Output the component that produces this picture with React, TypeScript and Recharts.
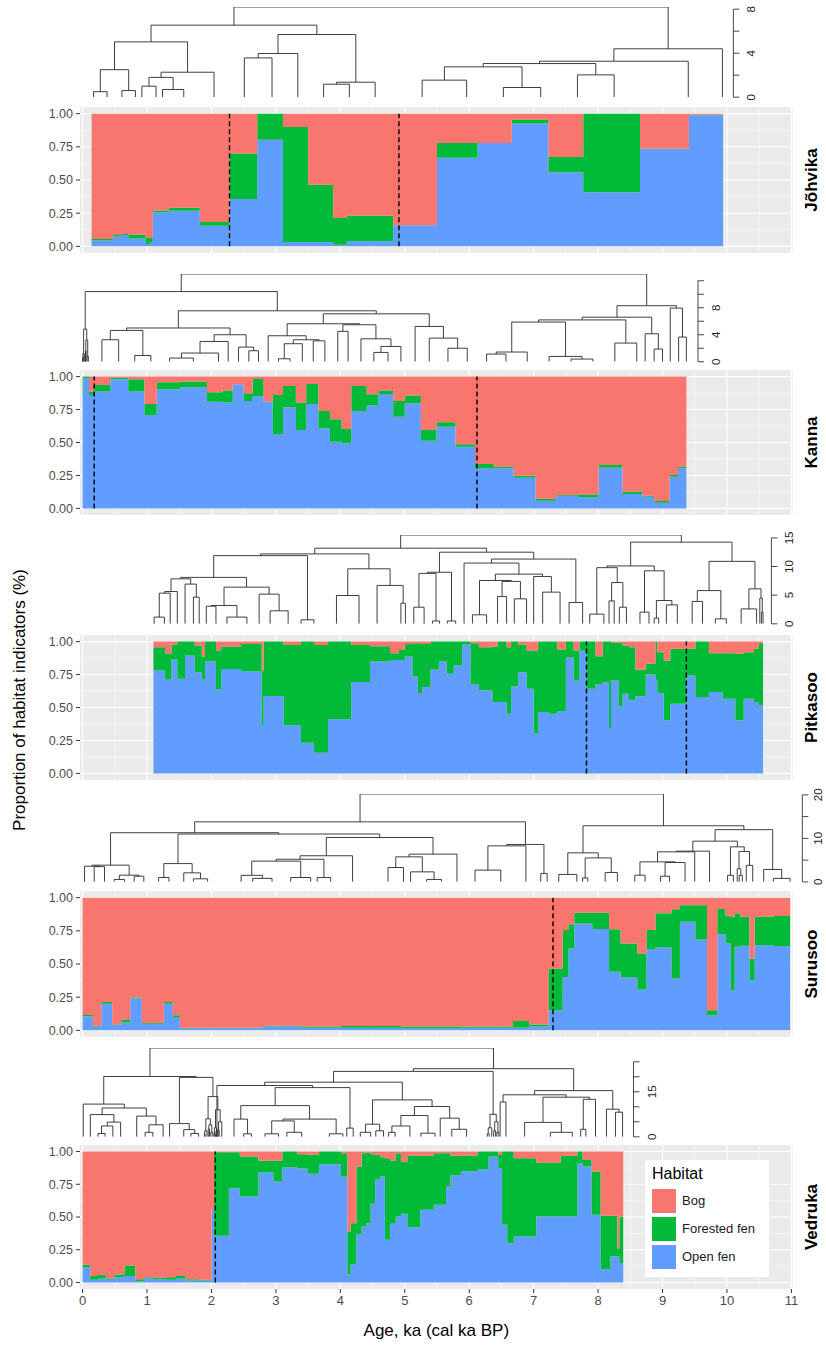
import React from 'react';
import { ComposedChart, Area, Line, XAxis, YAxis, CartesianGrid, ReferenceLine, Legend } from 'recharts';

const FONT = '"Liberation Sans", Arial, Helvetica, sans-serif';
const X_MIN = -0.04;
const X_MAX = 11.02;
const PLOT_LEFT = 80;
const PLOT_RIGHT = 792.7;
const PX_PER_KA = (PLOT_RIGHT - PLOT_LEFT) / (X_MAX - X_MIN);

const xTicks = [0, 1, 2, 3, 4, 5, 6, 7, 8, 9, 10, 11];
const xMinor = [0.5, 1.5, 2.5, 3.5, 4.5, 5.5, 6.5, 7.5, 8.5, 9.5, 10.5];
const yTicks = [0, 0.25, 0.5, 0.75, 1];
const yMinor = [0.125, 0.375, 0.625, 0.875];

const habitatNames = ['Bog', 'Forested fen', 'Open fen'];
const habitatColors = ['#F8766D', '#00BA38', '#619CFF'];

// ---------------- Jõhvika ----------------
const johvikaAge = [0.14, 0.47, 0.60, 0.71, 0.98, 1.05, 1.09, 1.34, 1.82, 2.28, 2.71, 3.11, 3.50, 3.89, 4.10, 4.82, 5.50, 6.13, 6.66, 7.23, 7.77, 8.65, 9.41];
const johvikaEnd = 9.94;
const johvikaOpen = [0.045, 0.075, 0.085, 0.06, 0.018, 0.033, 0.256, 0.269, 0.156, 0.357, 0.804, 0.033, 0.033, 0.013, 0.038, 0.16, 0.668, 0.779, 0.925, 0.558, 0.407, 0.736, 0.987];
const johvikaForest = [0.01, 0.01, 0.008, 0.028, 0.045, 0.03, 0.015, 0.022, 0.027, 0.343, 0.196, 0.867, 0.432, 0.201, 0.193, 0, 0.111, 0, 0.03, 0.115, 0.593, 0, 0.005];
const johvikaBog = [0.945, 0.915, 0.907, 0.912, 0.937, 0.937, 0.729, 0.709, 0.817, 0.30, 0, 0.10, 0.535, 0.786, 0.769, 0.84, 0.221, 0.221, 0.045, 0.327, 0, 0.264, 0.008];
const johvikaZones = [2.28, 4.91];
const johvikaTree = [8.2,
  [6.55,
    [5.03,
      [2.5, [0.5, 0.17, 0.38], [0.6, 0.61, 0.82]],
      [2.27, [1.8, [1.0, 0.92, 1.14], [0.7, 1.24, 1.57]], 2.04]],
    [5.7,
      [3.97, [3.57, 2.51, 2.94], 3.34],
      [1.36, [1.18, 3.74, 4.14], 4.54]]],
  [4.4,
    [3.27,
      [3.06,
        [2.76, [1.55, 5.27, 5.96], [0.88, 6.53, 7.11]],
        [2.03, 7.68, 8.25]],
      9.40],
    9.93]];

// ---------------- Kanna ----------------
const kannaAge = [0.00, 0.01, 0.10, 0.18, 0.43, 0.71, 0.96, 1.15, 1.52, 1.93, 2.17, 2.33, 2.50, 2.64, 2.81, 2.95, 3.11, 3.31, 3.47, 3.66, 3.84, 4.02, 4.17, 4.41, 4.59, 4.82, 5.00, 5.25, 5.49, 5.79, 6.09, 6.38, 6.69, 7.03, 7.35, 7.70, 8.01, 8.38, 8.69, 8.87, 9.11, 9.24];
const kannaEnd = 9.37;
const kannaOpen = [0.86, 0.987, 0.861, 0.886, 0.98, 0.886, 0.709, 0.904, 0.919, 0.81, 0.803, 0.942, 0.815, 0.853, 0.81, 0.565, 0.767, 0.595, 0.792, 0.608, 0.506, 0.494, 0.739, 0.78, 0.868, 0.696, 0.797, 0.514, 0.62, 0.468, 0.304, 0.304, 0.233, 0.058, 0.096, 0.084, 0.309, 0.109, 0.089, 0.043, 0.241, 0.304];
const kannaForest = [0.13, 0.013, 0.025, 0.051, 0.012, 0.094, 0.083, 0.053, 0.043, 0.071, 0.091, 0, 0.058, 0.129, 0, 0.296, 0.162, 0.208, 0.152, 0.131, 0.17, 0.109, 0.19, 0.086, 0.026, 0.119, 0.059, 0.081, 0.033, 0.018, 0.033, 0.012, 0.015, 0.015, 0.005, 0.022, 0.02, 0.018, 0.007, 0.013, 0.012, 0.012];
const kannaBog = [0.01, 0, 0.114, 0.063, 0.008, 0.02, 0.208, 0.043, 0.038, 0.119, 0.106, 0.058, 0.127, 0.018, 0.19, 0.139, 0.071, 0.197, 0.056, 0.261, 0.324, 0.397, 0.071, 0.134, 0.106, 0.185, 0.144, 0.405, 0.347, 0.514, 0.663, 0.684, 0.752, 0.927, 0.899, 0.894, 0.671, 0.873, 0.904, 0.944, 0.747, 0.684];
const kannaZones = [0.18, 6.12];
const kannaTree = [13.0,
  [10.4,
    [4.84, [1.2, [0.6, 0.0, 0.01], [0.9, 0.02, 0.035]], [3.2, [1.6, 0.045, 0.055], [0.8, 0.07, 0.09]]],
    [7.55,
      [5.0,
        [4.64, [3.26, 0.30, 0.56], [0.93, 0.81, 1.06]],
        [4.0,
          [3.0, [1.29, [0.55, 1.35, 1.72], 2.11], 2.26],
          [2.17, 2.42, [1.63, 2.58, 2.73]]]],
      [7.1,
        [5.63,
          [3.85, 2.88, [3.26, [2.67, [0.44, 3.04, 3.22], 3.41], [3.1, 3.58, 3.76]]],
          [5.48, [4.5, 3.96, 4.12], [3.4, 4.32, [2.27, [1.38, 4.52, 4.74], 4.94]]]],
        [5.23, 5.16, [3.5, 5.38, [2.0, 5.67, 5.97]]]]]],
  [8.3,
    [6.6,
      [6.2,
        [5.88, [1.44, [1.14, 6.27, 6.57], 6.90], [0.79, 7.24, [0.4, 7.58, 7.92]]],
        [2.77, 8.26, 8.60]],
      [4.15, 8.73, [1.88, 8.87, 9.00]]],
    [7.95, 9.12, [3.66, 9.25, 9.37]]]];

// ---------------- Pitkasoo ----------------
const pitkasooAge = [1.10, 1.28, 1.38, 1.47, 1.59, 1.74, 1.85, 1.90, 2.07, 2.15, 2.46, 2.78, 2.81, 3.12, 3.39, 3.59, 3.81, 4.17, 4.46, 4.77, 4.91, 5.00, 5.12, 5.20, 5.27, 5.40, 5.53, 5.65, 5.76, 5.89, 6.02, 6.15, 6.36, 6.44, 6.58, 6.65, 6.76, 6.89, 7.00, 7.07, 7.23, 7.37, 7.50, 7.62, 7.71, 7.82, 7.96, 8.07, 8.17, 8.20, 8.32, 8.38, 8.48, 8.58, 8.74, 8.89, 8.92, 9.02, 9.12, 9.37, 9.51, 9.72, 9.93, 10.13, 10.26, 10.42, 10.49];
const pitkasooEnd = 10.56;
const pitkasooOpen = [0.781, 0.71, 0.864, 0.718, 0.894, 0.768, 0.71, 0.849, 0.637, 0.793, 0.773, 0.365, 0.587, 0.365, 0.232, 0.156, 0.411, 0.693, 0.849, 0.861, 0.861, 0.887, 0.736, 0.61, 0.655, 0.788, 0.851, 0.756, 0.819, 0.977, 0.675, 0.63, 0.542, 0.542, 0.458, 0.66, 0.768, 0.642, 0.302, 0.466, 0.453, 0.473, 0.88, 0.704, 0.93, 0.642, 0.678, 0.691, 0.34, 0.704, 0.51, 0.605, 0.555, 0.585, 0.751, 0.71, 0.61, 0.403, 0.529, 0.743, 0.58, 0.617, 0.567, 0.403, 0.567, 0.542, 0.516];
const pitkasooForest = [0.176, 0.197, 0.113, 0.282, 0.106, 0.202, 0.177, 0.151, 0.295, 0.169, 0.209, 0.415, 0.413, 0.61, 0.768, 0.819, 0.589, 0.282, 0.116, 0.051, 0.076, 0.095, 0.251, 0.377, 0.327, 0.212, 0.149, 0.244, 0.181, 0.023, 0.312, 0.327, 0.42, 0.458, 0.499, 0.34, 0.209, 0.29, 0.63, 0.534, 0.547, 0.467, 0.12, 0.228, 0.07, 0.358, 0.211, 0.309, 0.66, 0.29, 0.484, 0.365, 0.402, 0.201, 0.08, 0.29, 0.31, 0.453, 0.416, 0.202, 0.42, 0.295, 0.345, 0.504, 0.353, 0.403, 0.471];
const pitkasooBog = [0.043, 0.093, 0.023, 0, 0, 0.03, 0.113, 0, 0.068, 0.038, 0.018, 0.22, 0, 0.025, 0, 0.025, 0, 0.025, 0.035, 0.088, 0.063, 0.018, 0.013, 0.013, 0.018, 0, 0, 0, 0, 0, 0.013, 0.043, 0.038, 0, 0.043, 0, 0.023, 0.068, 0.068, 0, 0, 0.06, 0, 0.068, 0, 0, 0.111, 0, 0, 0.006, 0.006, 0.03, 0.043, 0.214, 0.169, 0, 0.08, 0.144, 0.055, 0.055, 0, 0.088, 0.088, 0.093, 0.08, 0.055, 0.013];
const pitkasooZones = [7.82, 9.37];
const pitkasooTree = [15.5,
  [13.2,
    [12.2,
      [11.9,
        [8.1,
          [7.85,
            [5.64, [5.35, [1.17, 1.11, 1.27], 1.36], 1.47],
            [6.93, 1.59, [4.65, 1.72, 1.81]]],
          [6.4,
            [3.2, [3.08, 1.92, 2.07], [1.17, 2.24, 2.55]],
            [5.18, 2.74, [2.27, 2.91, 3.19]]]],
        [0.7, 3.39, 3.59]],
      [9.6,
        [4.94, 3.94, 4.29],
        [6.7, 4.57, [3.6, 4.94, 5.01]]]],
    [12.5,
      [9.0, [8.8, [2.9, 5.14, 5.30], [0.5, 5.43, 5.54]], [0.5, 5.66, 5.79]],
      [11.3,
        [10.6,
          5.92,
          [8.67,
            [7.56, [1.57, 6.05, 6.27], [7.4, [4.77, 6.44, 6.58], [4.36, 6.70, 6.89]]],
            [8.26, 7.0, [5.53, 7.14, 7.41]]]],
        [3.72, 7.55, 7.76]]]],
  [14.25,
    [10.1,
      [9.8, [1.69, 7.87, 8.09], [7.2, [4.0, 8.17, 8.25], [2.9, 8.33, 8.44]]],
      [9.25, [2.04, 8.65, 8.79], [4.07, [1.0, 8.87, 8.94], [3.3, 9.06, 9.23]]]],
    [10.9,
      [5.8, [3.9, 9.46, 9.62], [0.87, 9.82, 9.99]],
      [6.1, [2.6, 10.22, 10.46], [4.5, 10.51, [2.0, 10.535, 10.56]]]]]];

// ---------------- Surusoo ----------------
const surusooAge = [0.00, 0.16, 0.29, 0.46, 0.60, 0.74, 0.92, 1.26, 1.40, 1.51, 2.80, 3.39, 4.01, 4.94, 5.87, 6.68, 6.93, 7.23, 7.45, 7.54, 7.63, 7.91, 8.17, 8.35, 8.61, 8.75, 8.89, 9.14, 9.27, 9.51, 9.69, 9.85, 9.98, 10.06, 10.12, 10.21, 10.35, 10.43, 10.73];
const surusooEnd = 10.98;
const surusooOpen = [0.106, 0.03, 0.20, 0.04, 0.06, 0.24, 0.05, 0.20, 0.10, 0.015, 0.03, 0.02, 0.02, 0.015, 0.02, 0.02, 0.03, 0.151, 0.403, 0.617, 0.806, 0.763, 0.441, 0.398, 0.307, 0.612, 0.625, 0.39, 0.819, 0.685, 0.113, 0.725, 0.655, 0.302, 0.63, 0.637, 0.378, 0.642, 0.635];
const surusooForest = [0.01, 0.005, 0.013, 0.005, 0.02, 0.008, 0.005, 0.013, 0.013, 0.005, 0.005, 0.01, 0.012, 0.015, 0.01, 0.05, 0.015, 0.315, 0.353, 0.183, 0.081, 0.124, 0.32, 0.257, 0.272, 0.144, 0.257, 0.522, 0.123, 0.257, 0.038, 0.189, 0.209, 0.554, 0.252, 0.219, 0.164, 0.214, 0.226];
const surusooBog = [0.884, 0.965, 0.787, 0.955, 0.92, 0.752, 0.945, 0.787, 0.887, 0.98, 0.965, 0.97, 0.968, 0.97, 0.97, 0.93, 0.955, 0.534, 0.244, 0.20, 0.113, 0.113, 0.239, 0.345, 0.421, 0.244, 0.118, 0.088, 0.058, 0.058, 0.849, 0.086, 0.136, 0.144, 0.118, 0.144, 0.458, 0.144, 0.139];
const surusooZones = [7.30];
const surusooTree = [20.2,
  [13.8,
    [11.3,
      [3.84, [3.6, 0.03, [3.5, 0.18, 0.34]], [1.54, [0.55, 0.49, 0.65], [1.3, 0.80, 0.95]]],
      [11.0,
        [4.2, [1.0, 1.18, 1.34], [2.07, 1.57, [0.7, 1.72, 1.94]]],
        [10.2,
          [6.0,
            [5.2,
              [4.76, [1.5, 2.46, [0.8, 2.64, 2.94]], [1.0, 3.23, 3.54]],
              [1.0, 3.64, 3.85]],
            4.19],
          [6.37,
            [5.75, [3.3, 4.74, 4.98], [2.3, 5.09, [0.55, 5.34, 5.57]]],
            5.81]]]],
    [8.6,
      [8.28, [2.7, 6.09, 6.49], 6.88],
      [1.93, 7.11, 7.21]]],
  [12.9,
    [6.67, [1.7, 7.39, 7.67], [5.5, [0.9, 7.76, 7.84], [2.16, 8.11, 8.30]]],
    [12.0,
      [9.36,
        [7.06, [6.9, [4.6, [1.53, 8.57, 8.73], [4.45, [1.3, 8.97, 9.11], 9.35]], 9.50], 9.73],
        [8.05, [1.5, 10.01, 10.10], [7.0, [3.0, 10.16, [1.5, 10.19, 10.24]], [3.8, 10.30, 10.40]]]],
      [2.85, 10.57, [0.8, 10.72, 10.98]]]]];

// ---------------- Vedruka ----------------
const vedrukaAge = [0.00, 0.12, 0.24, 0.36, 0.49, 0.65, 0.82, 0.95, 1.10, 1.30, 1.45, 1.60, 1.80, 2.00, 2.04, 2.27, 2.44, 2.73, 2.96, 3.10, 3.33, 3.49, 3.67, 4.01, 4.11, 4.16, 4.25, 4.33, 4.40, 4.47, 4.54, 4.62, 4.69, 4.77, 4.86, 4.94, 5.04, 5.24, 5.45, 5.64, 5.71, 5.87, 6.13, 6.30, 6.45, 6.51, 6.59, 6.69, 7.04, 7.42, 7.68, 7.76, 7.90, 8.04, 8.19, 8.30, 8.33];
const vedrukaEnd = 8.39;
const vedrukaOpen = [0.115, 0.02, 0.03, 0.02, 0.04, 0.05, 0.01, 0.03, 0.025, 0.02, 0.03, 0.015, 0.015, 0.555, 0.356, 0.72, 0.656, 0.84, 0.771, 0.88, 0.87, 0.83, 0.903, 0.809, 0.06, 0.14, 0.371, 0.427, 0.453, 0.606, 0.789, 0.809, 0.326, 0.448, 0.504, 0.524, 0.422, 0.555, 0.593, 0.733, 0.817, 0.85, 0.865, 0.962, 0.873, 0.44, 0.30, 0.351, 0.504, 0.504, 0.911, 0.886, 0.517, 0.10, 0.20, 0.20, 0.148];
const vedrukaForest = [0.02, 0.03, 0.03, 0.01, 0.02, 0.08, 0.015, 0.01, 0.01, 0.02, 0.02, 0.01, 0.005, 0, 0.639, 0.275, 0.306, 0.089, 0.158, 0.12, 0.11, 0.145, 0.097, 0.178, 0.33, 0.313, 0.514, 0.56, 0.539, 0.374, 0.186, 0.148, 0.623, 0.483, 0.483, 0.40, 0.545, 0.412, 0.394, 0.254, 0.15, 0.12, 0.135, 0.038, 0.10, 0.56, 0.70, 0.598, 0.412, 0.463, 0.089, 0.05, 0.33, 0.409, 0.309, 0.06, 0.356];
const vedrukaBog = [0.865, 0.95, 0.94, 0.97, 0.94, 0.87, 0.975, 0.96, 0.965, 0.96, 0.95, 0.975, 0.98, 0.445, 0.005, 0.005, 0.038, 0.071, 0.071, 0, 0.02, 0.025, 0, 0.013, 0.61, 0.547, 0.115, 0.013, 0.008, 0.02, 0.025, 0.043, 0.051, 0.069, 0.013, 0.076, 0.033, 0.033, 0.013, 0.013, 0.033, 0.03, 0, 0, 0.027, 0, 0, 0.051, 0.084, 0.033, 0, 0.064, 0.153, 0.491, 0.491, 0.74, 0.496];
const vedrukaZones = [2.06];
const vedrukaTree = [29.6,
  [20.1,
    [10.9, 0.01,
      [9.6,
        [7.4, 0.12, [4.9, [3.6, [1.1, 0.24, 0.35], 0.47], 0.59]],
        [6.9, 0.84, [4.0, [1.5, 0.97, 1.09], 1.25]]]],
    [19.8,
      [4.4, 1.35, [2.4, 1.57, [1.1, 1.68, 1.80]]],
      [13.4,
        [6.0, [2.0, [1.0, 1.89, 1.90], 1.93], [4.0, [2.5, 1.95, 1.97], [1.5, 1.99, 2.02]]],
        [9.0, [3.0, [1.2, 2.04, 2.05], 2.08], [5.0, [2.2, 2.10, 2.12], 2.16]]]]],
  [22.7,
    [21.8,
      [18.2,
        [17.1,
          [2.0, [0.8, 2.065, 2.075], 2.10],
          [16.4,
            [10.4,
              [5.9, 2.35, [1.0, 2.50, 2.62]],
              [5.9, [5.3, [1.0, 2.83, 3.04], [1.5, 3.17, 3.40]], [1.0, 3.83, 4.04]]],
            [2.9, 4.10, 4.20]]],
        [12.3,
          [4.2, [1.5, 4.31, 4.47], [2.0, 4.55, 4.67]],
          [10.1,
            [7.1, [3.6, [1.5, 4.75, 4.85], 5.08], [1.2, 5.25, 5.47]],
            [6.2, 5.55, [2.5, 5.73, 5.96]]]]],
      [7.5, [3.0, [1.0, 6.28, 6.31], 6.35], [5.0, [2.0, 6.38, 6.41], [1.5, 6.43, 6.46]]]],
    [15.4,
      [14.0,
        [11.6, 6.48, 6.57],
        [13.2, [4.8, 6.86, [1.5, 7.26, 7.60]], [12.5, [2.5, 7.73, 7.81], 7.96]]],
      [9.2, 8.13, [8.2, 8.27, 8.38]]]]];

type Tree = number | [number, Tree, Tree];

function dendroPoints(tree: any) {
  const pts: any[] = [];
  const walk = (t: Tree): { x: number; h: number } => {
    if (typeof t === 'number') return { x: t, h: 0 };
    const [h, l, r] = t as [number, Tree, Tree];
    const a = walk(l);
    const b = walk(r);
    pts.push({ x: a.x, y: a.h }, { x: a.x, y: h }, { x: b.x, y: h }, { x: b.x, y: b.h }, { x: b.x, y: null });
    return { x: (a.x + b.x) / 2, h };
  };
  walk(tree);
  return pts;
}

function buildRows(age: number[], open: number[], forest: number[], bog: number[], end: number) {
  const rows = age.map((a, i) => ({ age: a, open: open[i], forest: forest[i], bog: bog[i] }));
  const last = rows[rows.length - 1];
  rows.push({ ...last, age: end });
  return rows;
}

const sites = [
  { name: 'Jõhvika', rows: buildRows(johvikaAge, johvikaOpen, johvikaForest, johvikaBog, johvikaEnd), zones: johvikaZones, tree: johvikaTree,
    panelTop: 107, panelH: 146, base: 97, scale: 11, dmax: 8.2, axisX: 10.10, dTicks: [0, 2, 4, 6, 8], dLabels: [0, 4, 8], tMargin: 12 },
  { name: 'Kanna', rows: buildRows(kannaAge, kannaOpen, kannaForest, kannaBog, kannaEnd), zones: kannaZones, tree: kannaTree,
    panelTop: 370, panelH: 145, base: 362, scale: 6.75, dmax: 13.0, axisX: 9.55, dTicks: [0, 2, 4, 6, 8, 10, 12], dLabels: [0, 4, 8], tMargin: 12 },
  { name: 'Pitkasoo', rows: buildRows(pitkasooAge, pitkasooOpen, pitkasooForest, pitkasooBog, pitkasooEnd), zones: pitkasooZones, tree: pitkasooTree,
    panelTop: 635, panelH: 145, base: 624, scale: 5.73, dmax: 15.5, axisX: 10.69, dTicks: [0, 5, 10, 15], dLabels: [0, 5, 10, 15], tMargin: 12 },
  { name: 'Surusoo', rows: buildRows(surusooAge, surusooOpen, surusooForest, surusooBog, surusooEnd), zones: surusooZones, tree: surusooTree,
    panelTop: 891, panelH: 146, base: 881.7, scale: 4.35, dmax: 20.2, axisX: 11.17, dTicks: [0, 5, 10, 15, 20], dLabels: [0, 10, 20], tMargin: 9.5 },
  { name: 'Vedruka', rows: buildRows(vedrukaAge, vedrukaOpen, vedrukaForest, vedrukaBog, vedrukaEnd), zones: vedrukaZones, tree: vedrukaTree,
    panelTop: 1145, panelH: 144, base: 1137, scale: 3.0, dmax: 29.6, axisX: 8.55, dTicks: [0, 5, 10, 15, 20, 25], dLabels: [0, 15], tMargin: 12 },
];

function Dendrogram({ site }: any) {
  const pts = dendroPoints(site.tree);
  const plotW = (site.axisX - X_MIN) * PX_PER_KA;
  const plotH = site.dmax * site.scale;
  const mTop = 10;
  const mBottom = 6;
  const axisW = 30;
  const topTick = site.dTicks[site.dTicks.length - 1];
  const renderTick = (p: any) => {
    const v = p.payload.value;
    if (!site.dLabels.includes(v)) return <g />;
    return (
      <text x={p.x} y={p.y} transform={`rotate(-90 ${p.x} ${p.y})`} textAnchor="middle" dominantBaseline="central"
        fontSize={11.5} fill="#222" fontFamily={FONT}>{v}</text>
    );
  };
  return (
    <div style={{ position: 'absolute', left: 0, top: site.base - plotH - mTop }}>
      <ComposedChart width={PLOT_LEFT + plotW + axisW} height={plotH + mTop + mBottom} data={pts}
        margin={{ top: mTop, right: 0, bottom: mBottom, left: PLOT_LEFT }}>
        <XAxis type="number" dataKey="x" domain={[X_MIN, site.axisX]} hide allowDataOverflow />
        <YAxis orientation="right" type="number" domain={[0, site.dmax]} ticks={site.dTicks} interval={0}
          width={axisW} axisLine={false} tickLine={{ stroke: '#333', strokeWidth: 0.9 }} tickSize={6} tickMargin={site.tMargin}
          tick={renderTick} allowDataOverflow />
        <ReferenceLine segment={[{ x: site.axisX, y: 0 }, { x: site.axisX, y: topTick }]} stroke="#333" strokeWidth={0.9} ifOverflow="visible" />
        <Line type="linear" dataKey="y" stroke="#2a2a2a" strokeWidth={0.9} dot={false} activeDot={false}
          connectNulls={false} isAnimationActive={false} />
      </ComposedChart>
    </div>
  );
}

const renderLegend = (props: any) => {
  const payload = props.payload || [];
  const items = habitatNames.map((n, i) => {
    const p = payload.find((q: any) => q.value === n);
    return { name: n, color: p ? p.color : habitatColors[i] };
  });
  return (
    <div style={{ position: 'relative', width: 124, height: 117, background: '#fff', fontFamily: FONT }}>
      <div style={{ position: 'absolute', left: 7, top: 4, fontSize: 16, lineHeight: '20px', color: '#000' }}>Habitat</div>
      {items.map((it, i) => (
        <div key={it.name}>
          <div style={{ position: 'absolute', left: 7, top: 29 + i * 28, width: 24, height: 24, background: it.color }} />
          <div style={{ position: 'absolute', left: 37, top: 29 + i * 28, height: 24, lineHeight: '24px', fontSize: 13, color: '#1a1a1a', whiteSpace: 'nowrap' }}>{it.name}</div>
        </div>
      ))}
    </div>
  );
};

function HabitatPanel({ site, last }: any) {
  const xAxisH = last ? 56 : 0;
  return (
    <div style={{ position: 'absolute', left: 0, top: site.panelTop }}>
      <ComposedChart width={826} height={site.panelH + xAxisH} data={site.rows}
        margin={{ top: 0, right: 826 - PLOT_RIGHT, bottom: 0, left: 0 }}>
        <CartesianGrid fill="#EBEBEB" fillOpacity={1} stroke="#FFFFFF" strokeWidth={0.55} verticalValues={xMinor} horizontalValues={yMinor} />
        <CartesianGrid stroke="#FFFFFF" strokeWidth={1.1} verticalValues={xTicks} horizontalValues={yTicks} />
        <XAxis type="number" dataKey="age" domain={[X_MIN, X_MAX]} ticks={xTicks} interval={0} hide={!last}
          height={xAxisH || 1} axisLine={false} tickLine={{ stroke: '#333' }} tickSize={4} tickMargin={3}
          tick={{ fontSize: 13, fill: '#4D4D4D', fontFamily: FONT }} allowDataOverflow
          label={last ? { value: 'Age, ka (cal ka BP)', position: 'insideBottom', offset: 9, fontSize: 17, fill: '#000', fontFamily: FONT } : undefined} />
        <YAxis type="number" domain={[-0.05, 1.05]} ticks={yTicks} interval={0} width={PLOT_LEFT}
          axisLine={false} tickLine={{ stroke: '#333' }} tickSize={4} tickMargin={3}
          tickFormatter={(v: number) => v.toFixed(2)}
          tick={{ fontSize: 12.5, fill: '#4D4D4D', fontFamily: FONT }} allowDataOverflow />
        <Area type="stepAfter" dataKey="open" name="Open fen" stackId="h" fill={habitatColors[2]} fillOpacity={1} stroke="none" isAnimationActive={false} />
        <Area type="stepAfter" dataKey="forest" name="Forested fen" stackId="h" fill={habitatColors[1]} fillOpacity={1} stroke="none" isAnimationActive={false} />
        <Area type="stepAfter" dataKey="bog" name="Bog" stackId="h" fill={habitatColors[0]} fillOpacity={1} stroke="none" isAnimationActive={false} />
        {site.zones.map((z: number) => (
          <ReferenceLine key={z} segment={[{ x: z, y: 0 }, { x: z, y: 1 }]} stroke="#000" strokeWidth={1.4} strokeDasharray="5 3" />
        ))}
        {last && (
          <Legend verticalAlign="middle" align="center" layout="horizontal" content={renderLegend}
            wrapperStyle={{ left: 645, top: 15, width: 124, height: 117 }} />
        )}
      </ComposedChart>
    </div>
  );
}

export default function App() {
  return (
    <div style={{ position: 'absolute', left: 0, top: 0, width: 826, height: 1345, background: '#fff', overflow: 'hidden' }}>
      {sites.map((s, i) => (
        <React.Fragment key={s.name}>
          <Dendrogram site={s} />
          <HabitatPanel site={s} last={i === sites.length - 1} />
        </React.Fragment>
      ))}
      <svg width={826} height={1345} style={{ position: 'absolute', left: 0, top: 0, pointerEvents: 'none' }}>
        <text x={19} y={700} transform="rotate(-90 19 700)" textAnchor="middle" dominantBaseline="central"
          fontSize={17} fill="#000" fontFamily={FONT}>Proportion of habitat indicators (%)</text>
        {sites.map((s) => {
          const cy = s.panelTop + s.panelH / 2;
          return (
            <text key={s.name} x={811} y={cy} transform={`rotate(-90 811 ${cy})`} textAnchor="middle" dominantBaseline="central"
              fontSize={17} fontWeight="bold" fill="#000" fontFamily={FONT}>{s.name}</text>
          );
        })}
      </svg>
    </div>
  );
}
